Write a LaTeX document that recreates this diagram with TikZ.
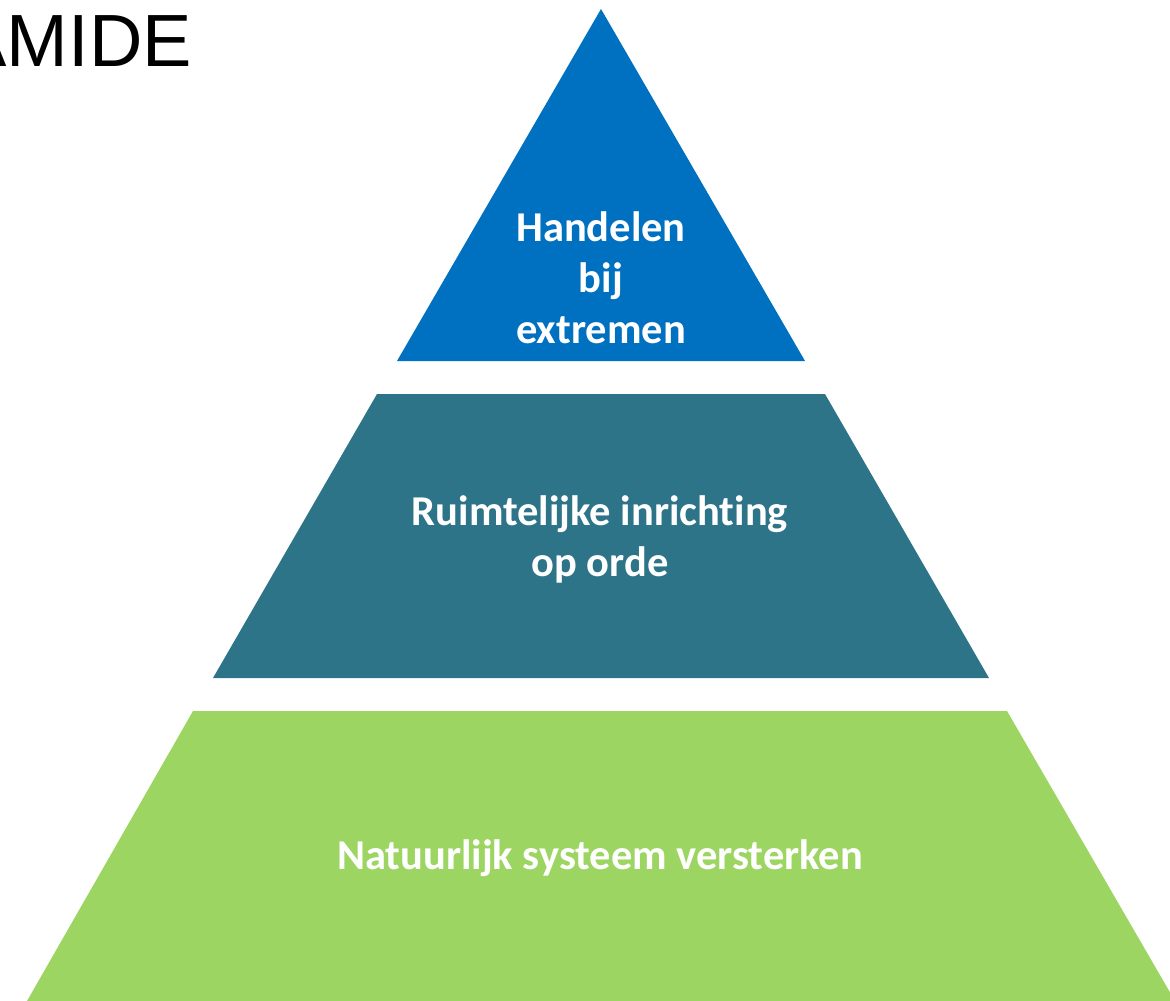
\documentclass[tikz,border=0pt]{standalone}
\usepackage{fontspec}
\setmainfont[Ligatures=NoCommon]{Carlito}
\newfontfamily\arialfont{Liberation Sans}
\definecolor{topblue}{HTML}{0070C0}
\definecolor{midteal}{HTML}{2D7489}
\definecolor{lowgreen}{HTML}{9DD563}
\begin{document}
\begin{tikzpicture}[x=1pt,y=-1pt,
  layertext/.style={text=white,font=\fontsize{42.5}{51}\selectfont\bfseries,align=center,inner sep=0pt}]
\useasboundingbox (0,0) rectangle (1170,1001);
% layers
\fill[topblue] (601,9) -- (805,361) -- (397,361) -- cycle;
\fill[midteal] (377,394) -- (825,394) -- (989,678) -- (213,678) -- cycle;
\fill[lowgreen] (193,711) -- (1007,711) -- (1175,1001) -- (27,1001) -- cycle;
% texts
\node[layertext] (top) at (601,278) {Handelen\\bij\\extremen};
\node[layertext] (mid) at (600,539) {Ruimtelijke inrichting\\op orde};
\node[layertext] (low) at (600,858) {Natuurlijk systeem versterken};
\node[anchor=base east,inner sep=0pt,font=\arialfont\fontsize{74}{74}\selectfont] (title) at (192,66) {AMIDE};
\end{tikzpicture}
\end{document}
